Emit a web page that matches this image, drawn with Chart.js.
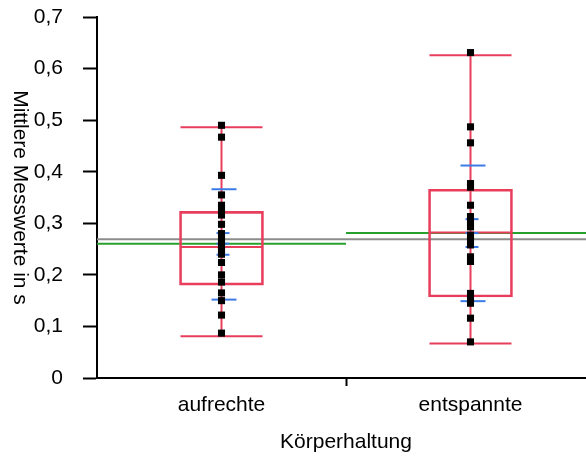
<!DOCTYPE html>
<html>
<head>
<meta charset="utf-8">
<script src="https://cdn.jsdelivr.net/npm/chart.js@4"></script>
<style>
    html, body { margin: 0; padding: 0; background: #fff; overflow: hidden; }
    #wrap { width: 600px; height: 456px; }
</style>
</head>
<body>
<div id="wrap"><canvas id="grafik"></canvas></div>
<script>
    const gruppen = ["aufrechte", "entspannte"];

    // Einzelwerte je Gruppe
    const werteAufrecht = [0.490, 0.467, 0.393, 0.355, 0.335, 0.326, 0.316, 0.298, 0.280, 0.271,
        0.262, 0.255, 0.248, 0.240, 0.224, 0.200, 0.186, 0.165, 0.150, 0.122, 0.087];
    const werteEntspannt = [0.631, 0.487, 0.456, 0.377, 0.370, 0.335, 0.313, 0.303, 0.293, 0.277,
        0.268, 0.258, 0.235, 0.226, 0.164, 0.154, 0.145, 0.116, 0.070];

    // Boxplot-Kennwerte
    const quartilUnten = [0.180, 0.157];
    const quartilOben = [0.323, 0.366];
    const median = [0.254, 0.282];
    const whiskerUnten = [0.081, 0.067];
    const whiskerOben = [0.486, 0.626];
    const mittelwert = [0.2605, 0.281];
    const sdUnten = [0.152, 0.149];
    const sdOben = [0.366, 0.412];
    const kiUnten = [0.239, 0.254];
    const kiOben = [0.281, 0.308];
    const gesamtMittel = 0.269;

    const yTicks = [0, 0.1, 0.2, 0.3, 0.4, 0.5, 0.6, 0.7];

    const schrift = "'Liberation Sans', Arial, sans-serif";
    const rot = "rgb(232, 62, 92)";
    const blau = "rgb(60, 122, 228)";
    const gruen = "rgb(40, 160, 45)";
    const grau = "rgb(140, 140, 140)";

    function linie(ctx, x1, y1, x2, y2, farbe) {
        ctx.beginPath();
        ctx.strokeStyle = farbe;
        ctx.lineWidth = 2;
        ctx.moveTo(x1, y1);
        ctx.lineTo(x2, y2);
        ctx.stroke();
    }

    // Mittelwertlinien, Whisker, Median, SD und Konfidenzintervall
    const boxPlugin = {
        id: "boxPlugin",
        beforeDatasetsDraw(chart) {
            const { ctx, chartArea, scales: { x, y } } = chart;
            const halb = 41;
            ctx.save();
            linie(ctx, chartArea.left, y.getPixelForValue(gesamtMittel), chartArea.right, y.getPixelForValue(gesamtMittel), grau);
            gruppen.forEach((g, i) => {
                const cx = x.getPixelForValue(i);
                const l = x.getPixelForValue(i - 0.5);
                const r = x.getPixelForValue(i + 0.5);
                const ym = y.getPixelForValue(mittelwert[i]);
                linie(ctx, l, ym, r, ym, gruen);
                linie(ctx, cx, y.getPixelForValue(whiskerUnten[i]), cx, y.getPixelForValue(whiskerOben[i]), rot);
                [whiskerUnten[i], whiskerOben[i], median[i]].forEach(v => {
                    const py = y.getPixelForValue(v);
                    linie(ctx, cx - halb, py, cx + halb, py, rot);
                });
                [sdUnten[i], sdOben[i]].forEach(v => {
                    const py = y.getPixelForValue(v);
                    linie(ctx, cx - 10, py, cx + 15, py, blau);
                });
                [kiUnten[i], mittelwert[i], kiOben[i]].forEach(v => {
                    const py = y.getPixelForValue(v);
                    linie(ctx, cx - 5, py, cx + 8, py, blau);
                });
            });
            ctx.restore();
        },
        afterDraw(chart) {
            const { ctx, chartArea } = chart;
            ctx.save();
            ctx.translate(20, (chartArea.top + chartArea.bottom) / 2);
            ctx.rotate(Math.PI / 2);
            ctx.font = "21px " + schrift;
            ctx.fillStyle = "#000";
            ctx.textAlign = "center";
            ctx.textBaseline = "middle";
            ctx.fillText("Mittlere Messwerte in s", 0, 0);
            ctx.restore();
        }
    };

    const punkte = [
        ...werteAufrecht.map(v => ({ x: gruppen[0], y: v })),
        ...werteEntspannt.map(v => ({ x: gruppen[1], y: v }))
    ];

    new Chart(document.getElementById("grafik"), {
        type: "bar",
        data: {
            labels: gruppen,
            datasets: [
                {
                    type: "line",
                    label: "Messwerte",
                    data: punkte,
                    showLine: false,
                    pointStyle: "rect",
                    pointRadius: 5,
                    pointBackgroundColor: "#000",
                    pointBorderWidth: 0
                },
                {
                    type: "bar",
                    label: "Box",
                    data: gruppen.map((g, i) => [quartilUnten[i], quartilOben[i]]),
                    backgroundColor: "rgba(0,0,0,0)",
                    borderColor: rot,
                    borderWidth: 2,
                    borderSkipped: false,
                    barThickness: 84
                }
            ]
        },
        options: {
            responsive: true,
            maintainAspectRatio: false,
            animation: false,
            layout: { padding: { top: 17, right: 5, left: 0, bottom: 0 } },
            plugins: {
                legend: { display: false },
                tooltip: { enabled: false }
            },
            scales: {
                x: {
                    type: "category",
                    offset: true,
                    grid: {
                        offset: true,
                        drawOnChartArea: false,
                        tickLength: 8,
                        tickWidth: 2,
                        tickColor: c => c.index === 1 ? "#000" : "rgba(0,0,0,0)"
                    },
                    border: { color: "#000", width: 2 },
                    ticks: { color: "#000", padding: 7, font: { size: 21, family: schrift } },
                    title: {
                        display: true,
                        text: "Körperhaltung",
                        color: "#000",
                        padding: { top: 0, bottom: 1 },
                        font: { size: 21, family: schrift }
                    },
                    afterFit: s => { s.height = 78; }
                },
                y: {
                    min: 0,
                    max: 0.7,
                    afterBuildTicks: s => { s.ticks = yTicks.map(v => ({ value: v })); },
                    grid: { drawOnChartArea: false, tickLength: 14, tickWidth: 2, tickColor: "#000" },
                    border: { color: "#000", width: 2 },
                    ticks: {
                        color: "#000",
                        padding: 20,
                        font: { size: 21, family: schrift },
                        callback: v => v === 0 ? "0" : (Math.round(v * 10) / 10).toFixed(1).replace(".", ",")
                    },
                    afterFit: s => {
                        s.width = 97;
                        s.paddingTop = 0;
                        s.paddingBottom = 0;
                    }
                }
            }
        },
        plugins: [boxPlugin]
    });
</script>
</body>
</html>
